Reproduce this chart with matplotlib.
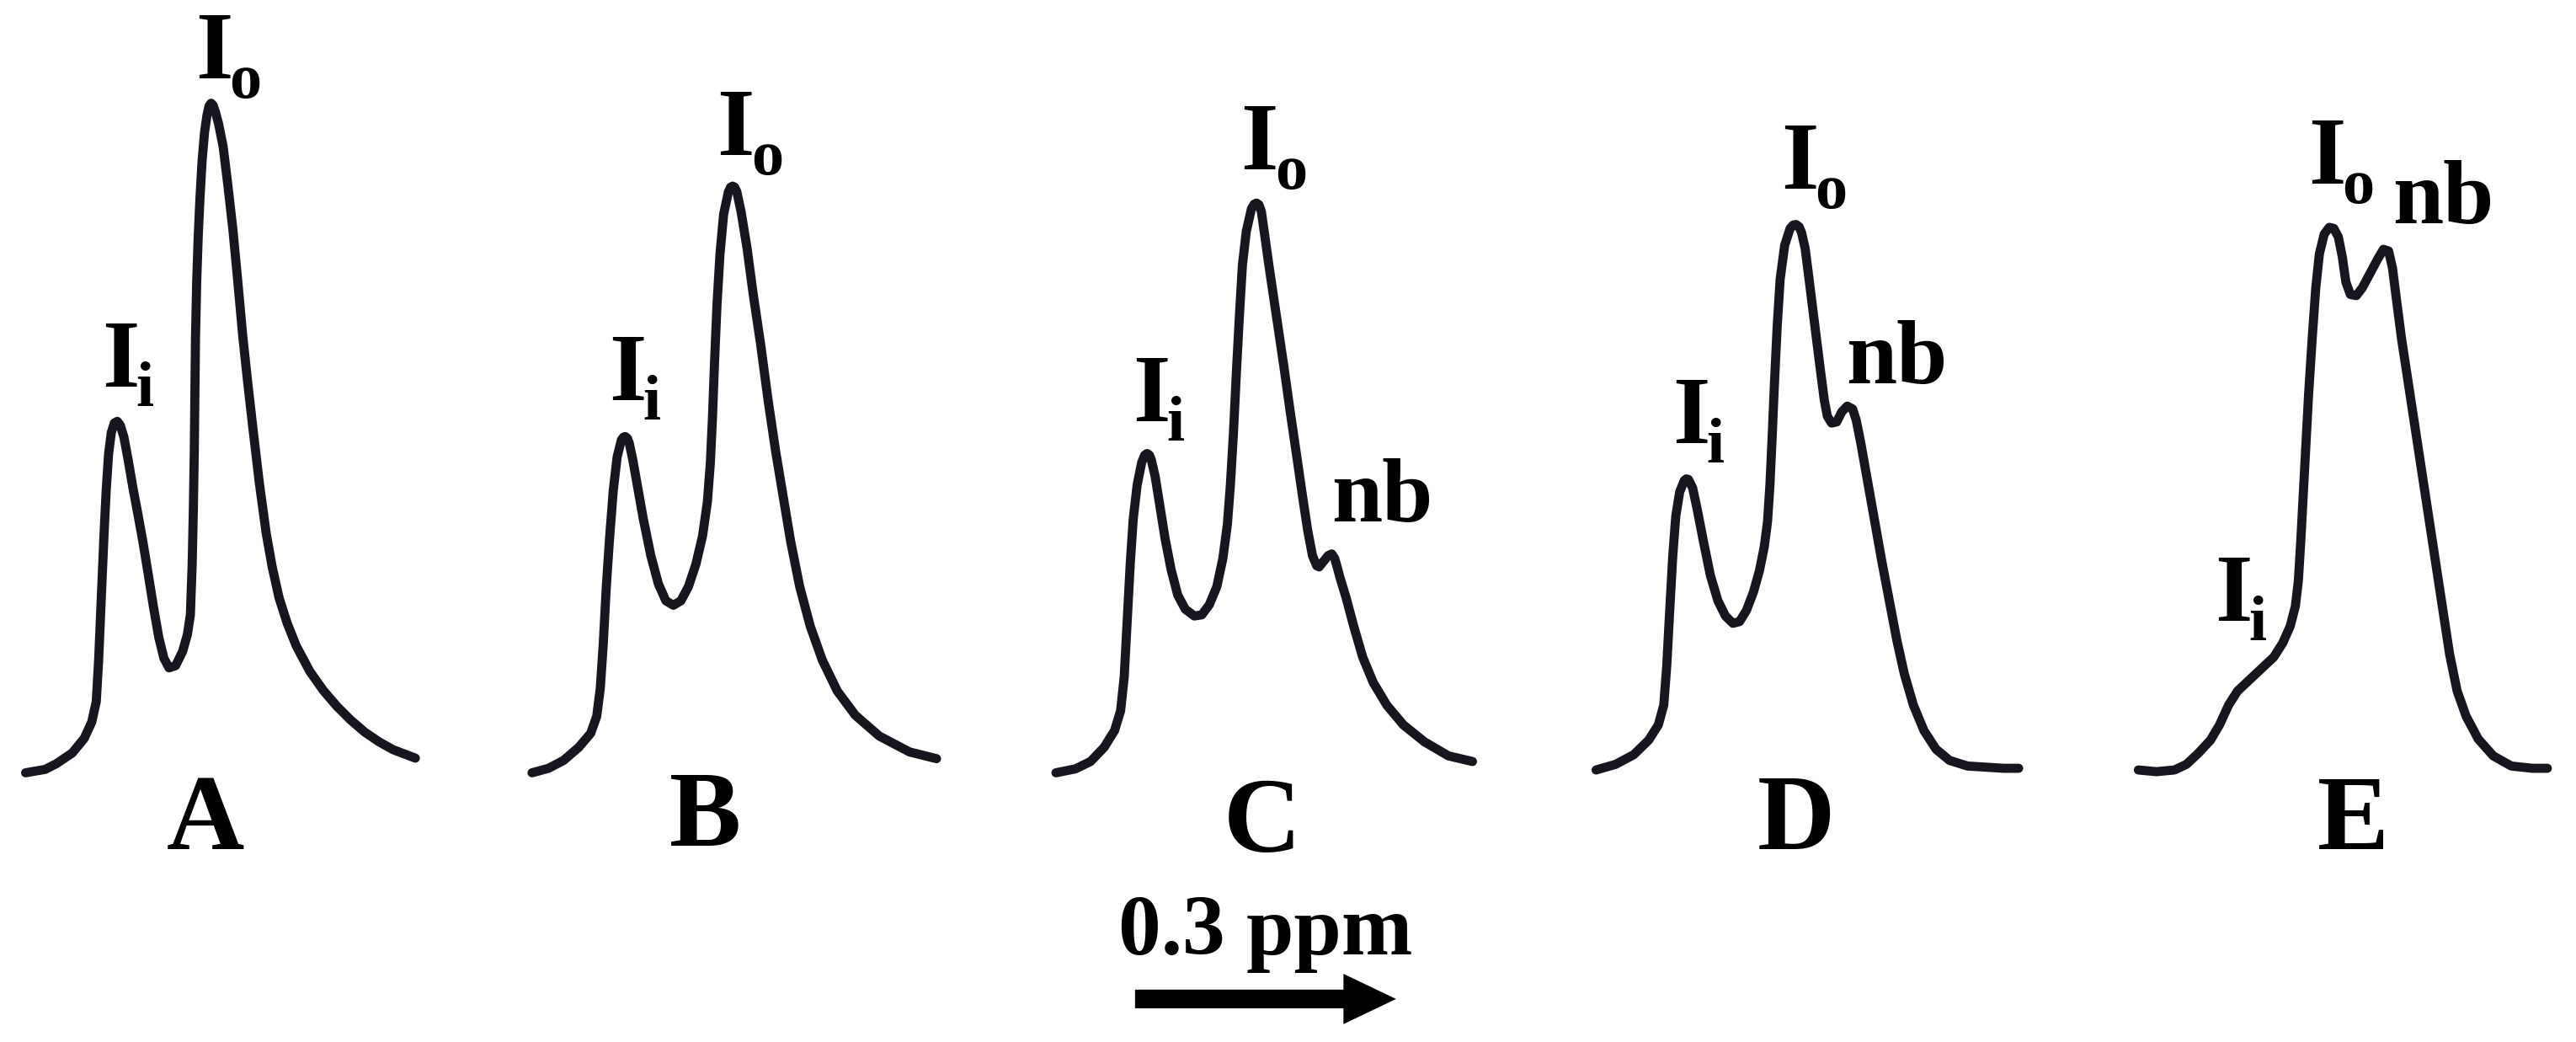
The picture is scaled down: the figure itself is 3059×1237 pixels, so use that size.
import matplotlib
matplotlib.use('Agg')
import matplotlib.pyplot as plt

plt.rcParams['font.family'] = ['Liberation Serif', 'DejaVu Serif']

spec_a = [(8.5, 0.0), (15.0, 0.6), (18.7, 1.6), (24.0, 3.5), (28.0, 6.1), (30.5, 9.0),
          (32.0, 12.6), (32.8, 20.0), (33.4, 27.5), (34.0, 35.0), (34.6, 42.4), (35.3, 50.0),
          (36.1, 56.5), (37.0, 60.3), (38.0, 62.0), (39.0, 62.3), (40.0, 61.6), (41.2, 59.5),
          (42.6, 55.5), (44.2, 50.5), (45.8, 46.0), (47.5, 41.0), (49.2, 35.5), (51.0, 29.5),
          (52.8, 24.0), (54.5, 20.3), (56.2, 18.6), (58.4, 19.0), (60.7, 21.5), (62.3, 24.5),
          (63.3, 28.0), (63.9, 37.0), (64.3, 47.0), (64.6, 57.0), (64.8, 67.0), (65.0, 77.0),
          (65.4, 87.0), (65.9, 95.0), (66.5, 102.0), (67.2, 108.5), (68.0, 113.5), (68.8, 116.5),
          (69.5, 118.2), (70.2, 118.7), (70.9, 118.3), (71.6, 117.2), (72.7, 115.0), (74.2, 111.0),
          (75.8, 104.0), (77.4, 96.5), (79.0, 87.5), (80.7, 77.5), (82.3, 69.5), (84.0, 61.5),
          (86.2, 51.5), (88.5, 42.5), (90.5, 36.5), (92.8, 31.0), (95.5, 26.5), (98.5, 22.5),
          (103.0, 18.0), (107.5, 14.6), (112.0, 11.8), (116.5, 9.4), (121.3, 7.2), (126.0, 5.5),
          (130.7, 4.1), (138.1, 2.6)]

spec_b = [(14.5, 0.0), (20.0, 0.8), (25.0, 2.2), (30.0, 4.5), (34.0, 7.0), (36.0, 10.0),
          (37.2, 15.0), (38.2, 23.0), (39.2, 33.0), (40.2, 41.0), (41.5, 50.0), (42.8, 56.0),
          (44.2, 59.0), (44.9, 59.5), (45.5, 59.6), (46.2, 59.3), (46.8, 58.5), (48.0, 55.5),
          (49.5, 51.0), (51.5, 45.0), (54.0, 38.5), (56.5, 33.5), (59.0, 30.5), (61.5, 29.7),
          (64.0, 30.5), (66.5, 33.0), (69.0, 37.0), (71.2, 42.0), (72.8, 48.0), (73.8, 55.0),
          (74.5, 63.0), (75.2, 73.0), (76.0, 83.0), (77.0, 92.0), (78.2, 99.0), (79.8, 103.0),
          (80.5, 103.8), (81.2, 104.0), (81.9, 103.8), (82.6, 103.0), (84.0, 99.5), (86.0, 93.0),
          (88.0, 85.0), (90.5, 76.0), (93.0, 66.0), (95.5, 57.0), (98.0, 49.0), (100.5, 41.0),
          (103.5, 33.0), (107.0, 26.0), (111.0, 20.0), (116.0, 14.5), (122.0, 10.2), (130.0, 6.5),
          (140.0, 3.7), (149.0, 2.5)]

spec_c = [(9.5, 0.0), (16.0, 0.7), (21.0, 2.0), (25.5, 4.5), (29.0, 7.5), (31.0, 11.0),
          (32.2, 17.0), (33.2, 27.0), (34.2, 37.0), (35.2, 45.0), (36.5, 51.0), (38.0, 55.0),
          (39.0, 56.3), (39.8, 56.6), (40.6, 56.3), (41.2, 55.5), (42.5, 52.5), (44.0, 47.5),
          (45.8, 41.5), (47.8, 36.0), (50.0, 31.5), (52.5, 29.0), (55.5, 27.8), (58.0, 28.0),
          (60.5, 29.8), (63.0, 33.0), (65.0, 38.0), (66.5, 44.0), (67.5, 51.0), (68.5, 60.0),
          (69.5, 71.0), (70.5, 81.0), (71.5, 90.0), (72.8, 96.0), (74.5, 100.0), (75.4, 100.8),
          (76.2, 101.0), (77.0, 100.7), (77.8, 99.5), (79.0, 95.0), (80.3, 90.0), (82.8, 81.0),
          (85.3, 72.0), (87.4, 64.0), (89.6, 56.0), (91.5, 49.0), (93.2, 43.0), (94.8, 38.5),
          (96.2, 36.7), (97.0, 36.5), (98.5, 37.5), (100.0, 38.5), (101.2, 38.8), (102.2, 38.0),
          (103.0, 36.5), (104.0, 34.5), (106.0, 31.0), (108.5, 26.0), (111.5, 20.5), (115.0, 16.0),
          (119.5, 12.0), (125.0, 8.5), (132.0, 5.5), (140.0, 3.0), (148.0, 2.0)]

spec_d = [(15.5, 0.5), (22.0, 1.5), (28.0, 3.2), (33.0, 5.8), (36.2, 8.5), (38.0, 12.0),
          (39.0, 19.0), (40.0, 29.0), (41.0, 38.5), (42.0, 45.5), (43.3, 49.8), (44.8, 51.8),
          (45.5, 52.1), (46.2, 52.0), (47.6, 50.5), (49.2, 46.5), (51.2, 41.0), (53.5, 35.0),
          (56.0, 30.5), (58.5, 27.8), (61.0, 26.5), (63.2, 26.8), (65.5, 28.8), (67.8, 32.0),
          (69.8, 35.8), (71.4, 40.0), (72.5, 44.5), (73.3, 51.0), (74.0, 59.0), (74.8, 69.0),
          (75.7, 79.0), (76.7, 87.5), (78.2, 93.5), (80.0, 96.5), (81.0, 97.1), (82.0, 97.2),
          (83.0, 96.8), (83.8, 95.8), (85.0, 93.0), (86.2, 88.0), (87.6, 82.0), (89.0, 76.0),
          (90.3, 70.5), (91.4, 66.0), (92.4, 63.2), (93.8, 62.0), (95.5, 62.2), (97.2, 64.0),
          (99.0, 65.0), (100.8, 64.5), (102.0, 62.5), (103.5, 58.5), (105.5, 52.5), (108.0, 45.0),
          (110.5, 37.5), (113.0, 30.5), (115.5, 23.5), (118.0, 17.5), (121.0, 12.0), (124.5, 7.5),
          (128.5, 4.2), (133.0, 2.2), (139.0, 1.2), (145.0, 1.0), (151.0, 0.8), (156.0, 0.8)]

spec_e = [(11.0, 0.5), (17.0, 0.2), (23.0, 0.5), (27.0, 1.5), (31.0, 3.5), (35.0, 5.8),
          (38.0, 8.5), (41.0, 12.0), (44.0, 14.5), (48.0, 16.5), (52.0, 18.5), (56.0, 20.5),
          (59.0, 23.0), (61.5, 26.0), (63.2, 29.5), (64.2, 34.0), (65.0, 41.0), (65.8, 49.0),
          (66.6, 57.0), (67.6, 67.0), (68.8, 77.0), (70.0, 86.0), (71.2, 92.0), (72.8, 95.5),
          (74.5, 96.7), (76.0, 96.5), (77.5, 95.0), (78.8, 91.5), (80.0, 87.0), (81.5, 84.8),
          (83.5, 84.6), (85.5, 86.0), (88.0, 88.5), (90.5, 91.0), (92.5, 92.8), (94.2, 92.5),
          (95.5, 89.5), (96.8, 84.0), (98.5, 77.0), (100.5, 70.0), (102.5, 63.0), (104.5, 56.0),
          (106.5, 49.0), (108.5, 42.0), (110.5, 35.0), (112.5, 28.0), (114.5, 21.0), (117.0, 14.5),
          (120.0, 10.0), (124.0, 6.0), (129.0, 3.0), (135.0, 1.2), (142.0, 0.8), (147.0, 0.8)]

panel_names = ['A', 'B', 'C', 'D', 'E']
spectra = [spec_a, spec_b, spec_c, spec_d, spec_e]

# peak assignments per panel
peak_names = [['Ii', 'Io'], ['Ii', 'Io'], ['Ii', 'Io', 'nb'], ['Ii', 'Io', 'nb'], ['Ii', 'Io', 'nb']]

scale_ppm = 0.3
ppm_per_point = 0.3 / 86.8

# layout (label anchors in data units of each panel)
label_pos = [
    {'Ii': (34.0, 68.5), 'Io': (65.0, 123.1)},
    {'Ii': (40.0, 66.0), 'Io': (76.0, 109.5)},
    {'Ii': (35.0, 62.3), 'Io': (71.0, 107.0), 'nb': (101.0, 44.6)},
    {'Ii': (41.0, 58.5), 'Io': (77.0, 103.5), 'nb': (98.5, 69.0)},
    {'Ii': (36.5, 27.0), 'Io': (67.5, 104.5), 'nb': (95.5, 97.5)},
]
letter_pos = [(68.2, -13.5), (72.0, -13.0), (78.0, -14.0), (82.0, -13.5), (82.5, -13.5)]
panel_left = [0, 580, 1220, 1840, 2500]
panel_w = [560, 560, 560, 560, 559]

W, H = 3059, 1237
fig = plt.figure(figsize=(W / 100, H / 100), dpi=100)
fig.patch.set_facecolor('white')

line_color = '#16161e'
axes = []
for k in range(5):
    ax = fig.add_axes([panel_left[k] / W, 1 - 1050 / H, panel_w[k] / W, 1050 / H])
    ax.set_xlim(0, panel_w[k] * 0.28)
    ax.set_ylim(-19.8, 137.0)
    ax.axis('off')
    xs = [p[0] for p in spectra[k]]
    ys = [p[1] for p in spectra[k]]
    ax.plot(xs, ys, color=line_color, lw=7.8, solid_joinstyle='round',
            solid_capstyle='round', clip_on=False)
    for name in peak_names[k]:
        x, y = label_pos[k][name]
        if name == 'nb':
            ax.text(x, y, 'nb', fontsize=78, fontweight='bold', ha='left', va='baseline',
                    clip_on=False)
        else:
            ax.text(x, y, 'I', fontsize=82, fontweight='bold', ha='left', va='baseline',
                    clip_on=False)
            ax.annotate(name[1], xy=(x, y), xytext=(29, -16.5), textcoords='offset points',
                        fontsize=55, fontweight='bold', ha='left', va='baseline',
                        annotation_clip=False)
    lx, ly = letter_pos[k]
    ax.text(lx, ly, panel_names[k], fontsize=92, fontweight='bold', ha='center',
            va='baseline', clip_on=False)
    axes.append(ax)

# chemical shift scale bar under panel C
axc = axes[2]
x_start = 35.8
x_end = x_start + scale_ppm / ppm_per_point
axc.annotate('', xy=(x_end, -40.1), xytext=(x_start, -40.1),
             arrowprops=dict(arrowstyle='simple,head_length=45,head_width=43,tail_width=16',
                             mutation_scale=1, fc='black', ec='none', shrinkA=0, shrinkB=0),
             annotation_clip=False)
axc.text((x_start + x_end) / 2, -32.2, '%.1f ppm' % scale_ppm, fontsize=73,
         fontweight='bold', ha='center', va='baseline', clip_on=False)

fig.savefig('out.png', dpi=100, facecolor='white')
